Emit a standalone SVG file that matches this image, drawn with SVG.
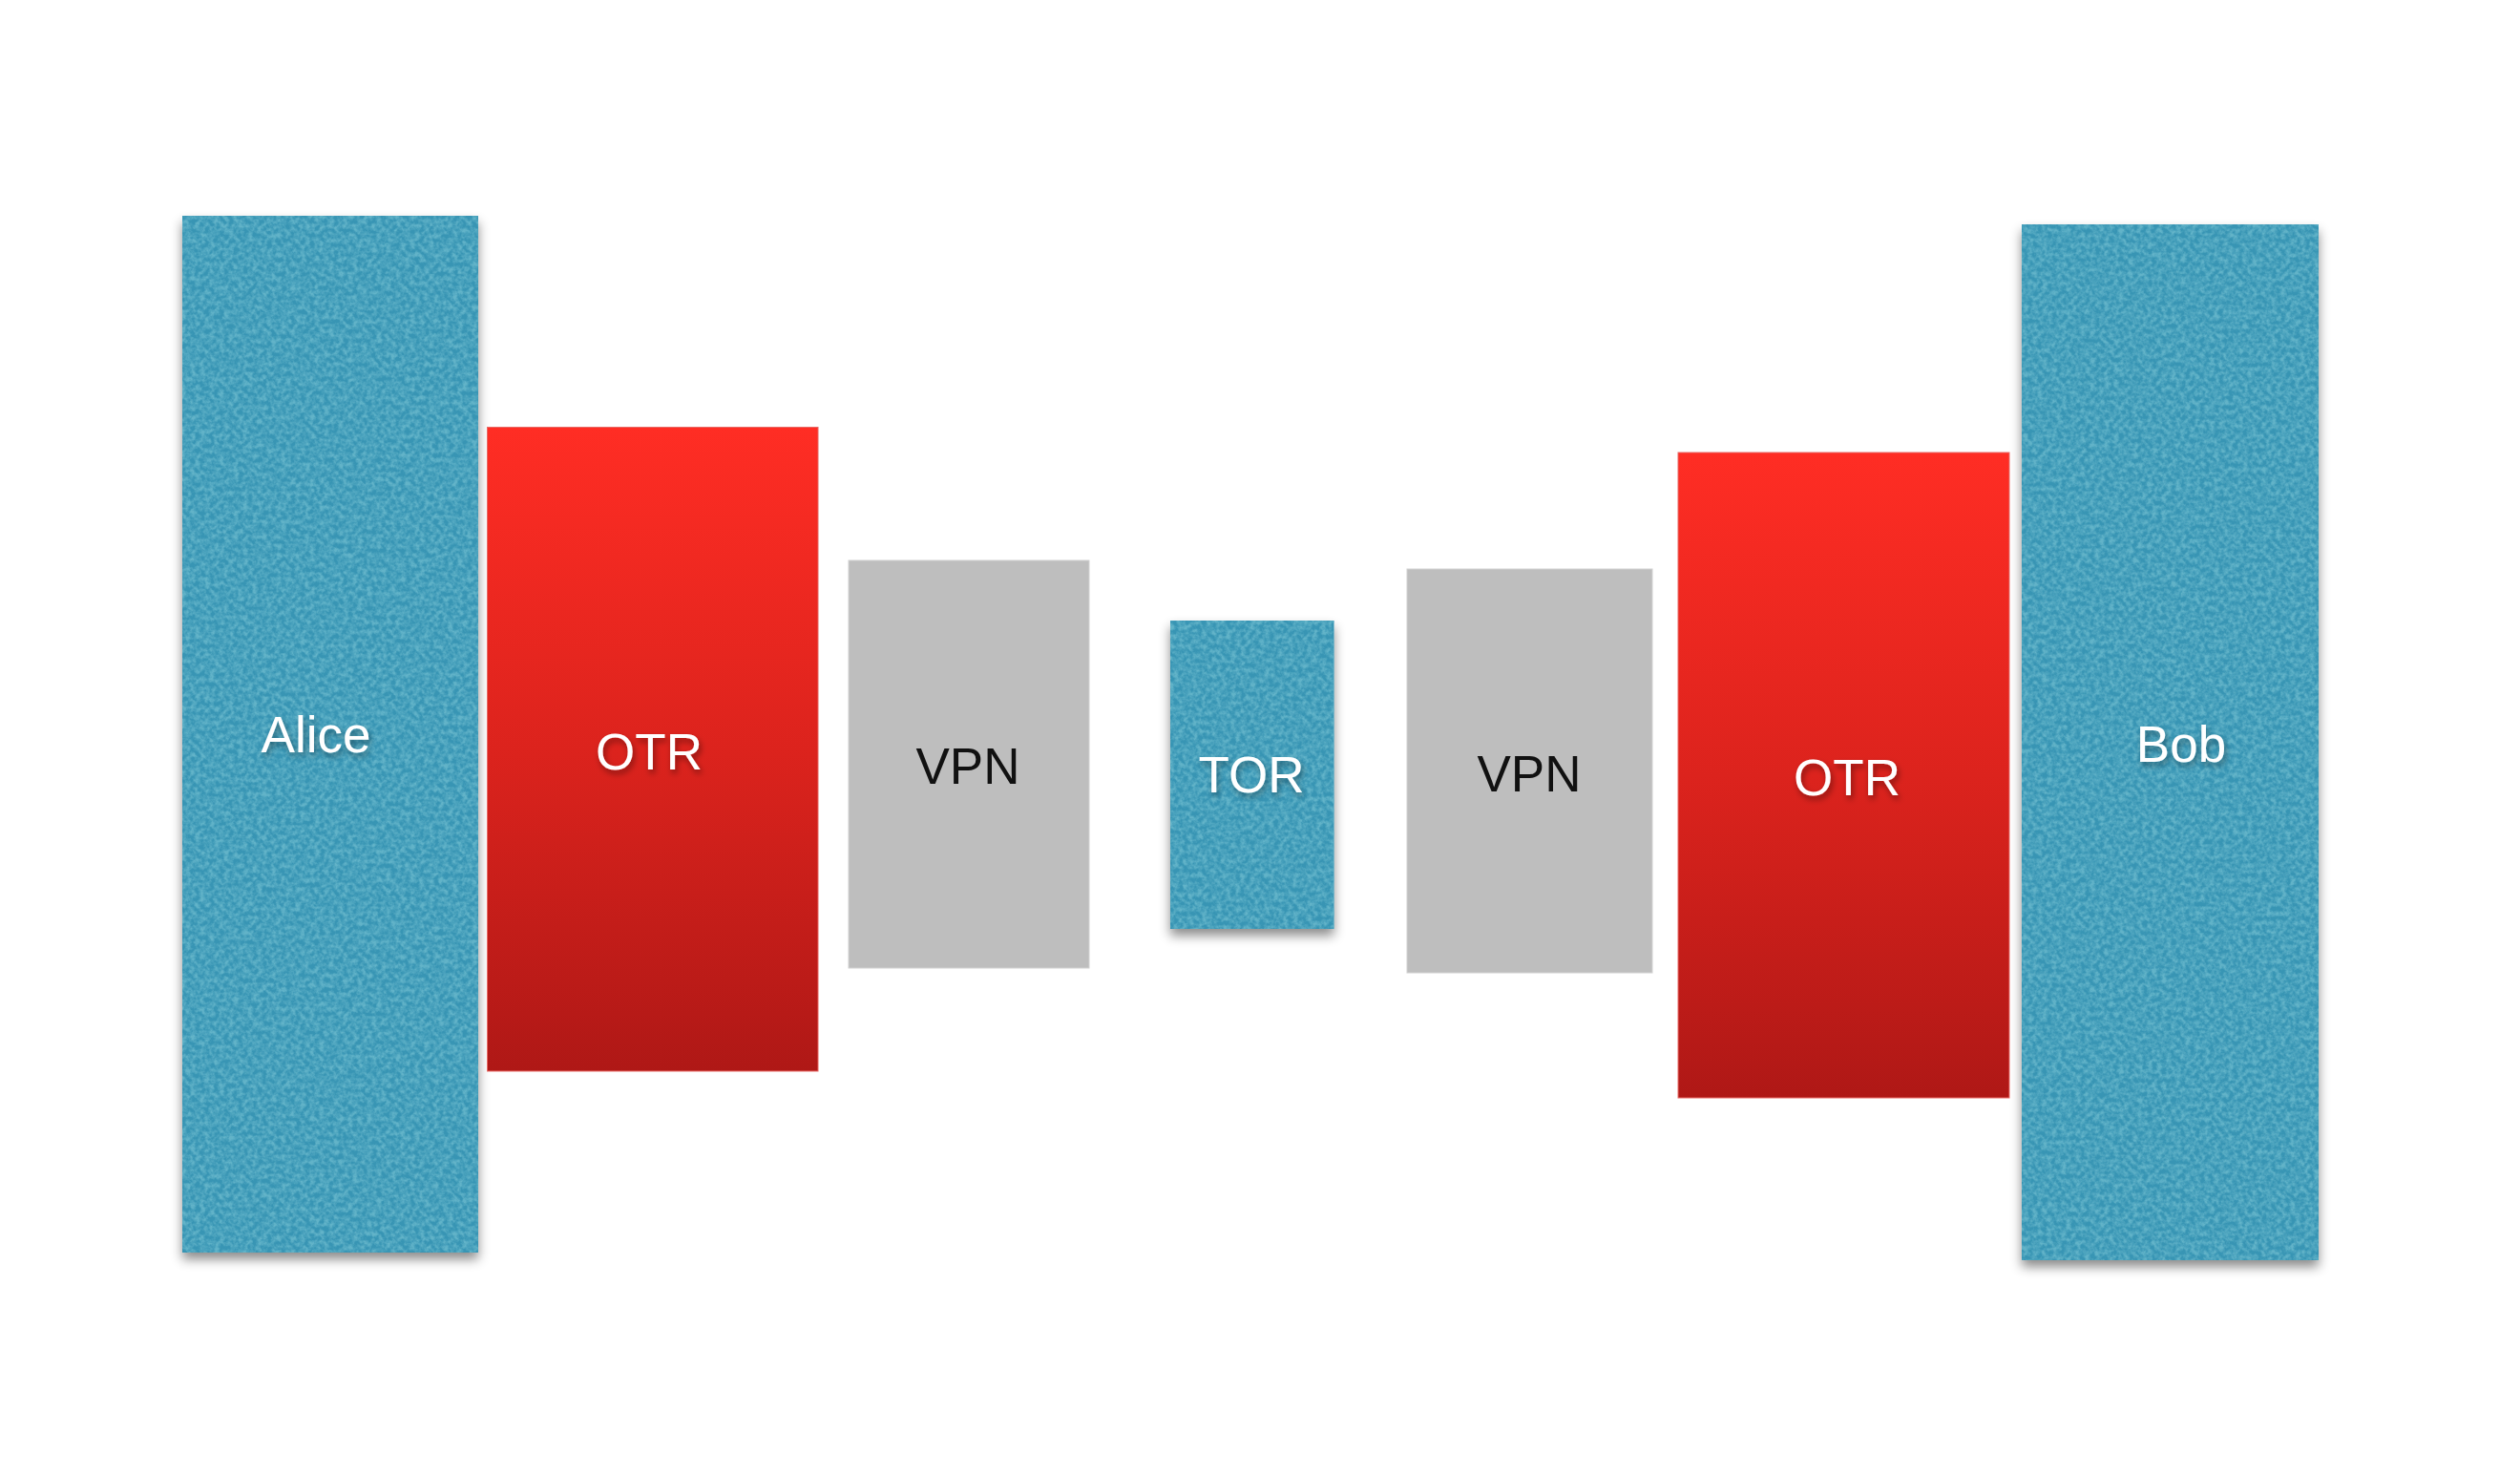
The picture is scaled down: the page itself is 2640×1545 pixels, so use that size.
<svg xmlns="http://www.w3.org/2000/svg" width="2640" height="1545" viewBox="0 0 2640 1545">
  <defs>
    <linearGradient id="redGrad" x1="0" y1="0" x2="0" y2="1">
      <stop offset="0" stop-color="#ff2d24"/>
      <stop offset="0.5" stop-color="#dc231d"/>
      <stop offset="1" stop-color="#af1816"/>
    </linearGradient>
    <filter id="boxShadow" x="-10%" y="-5%" width="120%" height="112%">
      <feDropShadow dx="0" dy="7" stdDeviation="6" flood-color="#000" flood-opacity="0.45"/>
    </filter>
    <filter id="noise" x="0" y="0" width="100%" height="100%">
      <feTurbulence type="fractalNoise" baseFrequency="0.2" numOctaves="3" seed="7" result="t"/>
      <feColorMatrix in="t" type="matrix" values="0 0 0 0 0.12  0 0 0 0 0.45  0 0 0 0 0.58  2.4 0 0 0 -0.8" result="n"/>
      <feComposite in="n" in2="SourceAlpha" operator="in"/>
    </filter>
    <filter id="textShadow" x="-20%" y="-30%" width="140%" height="170%">
      <feDropShadow dx="2" dy="4" stdDeviation="3" flood-color="#000" flood-opacity="0.4"/>
    </filter>
  </defs>
  <style>
    .blue { fill: #3795b4; }
    .red { fill: url(#redGrad); stroke: #e86a66; stroke-width: 1; }
    .gray { fill: #bebebe; stroke: #d2d2d2; stroke-width: 1; }
    .lbl { font-family: "Liberation Sans", Arial, Helvetica, sans-serif; font-size: 53px; text-anchor: middle; }
    .white { fill: #ffffff; filter: url(#textShadow); }
    .dark { fill: #111111; }
  </style>
  <rect width="2640" height="1545" fill="#ffffff"/>

  <g id="alice">
    <rect class="blue" x="191" y="226" width="310" height="1086" filter="url(#boxShadow)"/>
    <rect x="191" y="226" width="310" height="1086" fill="#000" filter="url(#noise)"/>
    <text class="lbl white" x="331" y="788">Alice</text>
  </g>

  <g id="otr-left">
    <rect class="red" x="510.5" y="447.5" width="346.5" height="674.5"/>
    <text class="lbl white" x="680" y="806">OTR</text>
  </g>

  <g id="vpn-left">
    <rect class="gray" x="889" y="587" width="252" height="427"/>
    <text class="lbl dark" x="1014" y="821">VPN</text>
  </g>

  <g id="tor">
    <rect class="blue" x="1226" y="650" width="171.5" height="323" filter="url(#boxShadow)"/>
    <rect x="1226" y="650" width="171.5" height="323" fill="#000" filter="url(#noise)"/>
    <text class="lbl white" x="1311" y="830">TOR</text>
  </g>

  <g id="vpn-right">
    <rect class="gray" x="1474" y="596" width="257" height="423"/>
    <text class="lbl dark" x="1602" y="829">VPN</text>
  </g>

  <g id="otr-right">
    <rect class="red" x="1758" y="474" width="347" height="676"/>
    <text class="lbl white" x="1935" y="833">OTR</text>
  </g>

  <g id="bob">
    <rect class="blue" x="2118" y="235" width="311" height="1085" filter="url(#boxShadow)"/>
    <rect x="2118" y="235" width="311" height="1085" fill="#000" filter="url(#noise)"/>
    <text class="lbl white" x="2285" y="798">Bob</text>
  </g>

  <g id="connectors"/>
</svg>
